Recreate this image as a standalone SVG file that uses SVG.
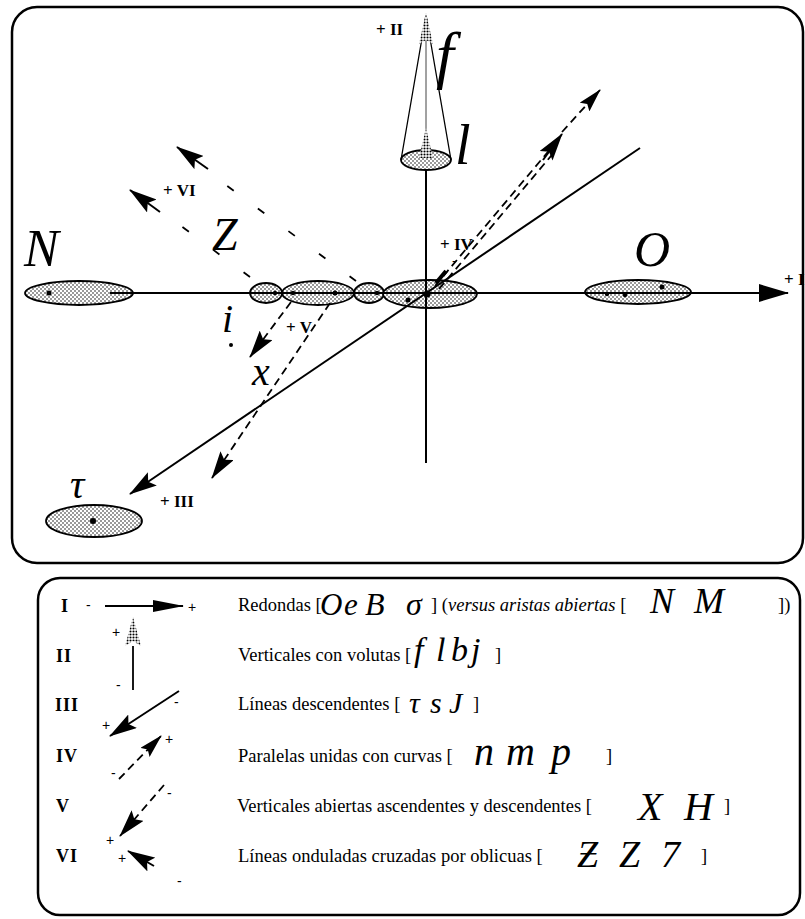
<svg xmlns="http://www.w3.org/2000/svg" width="805" height="919" viewBox="0 0 805 919">
<defs>
<pattern id="stip" width="4" height="4" patternUnits="userSpaceOnUse"><rect width="4" height="4" fill="#fff"/><circle cx="1" cy="1" r="0.75" fill="#000"/><circle cx="3" cy="3" r="0.75" fill="#000"/></pattern>
<pattern id="stipd" width="3" height="3" patternUnits="userSpaceOnUse"><rect width="3" height="3" fill="#fff"/><circle cx="1.5" cy="1.5" r="1.05" fill="#000"/></pattern>
<marker id="aI" markerUnits="userSpaceOnUse" viewBox="0 0 30 18" markerWidth="30" markerHeight="18" refX="29" refY="9" orient="auto"><path d="M0,0 L30,9 L0,18 Z" fill="#000"/></marker>
<marker id="aL" markerUnits="userSpaceOnUse" viewBox="0 0 31 12" markerWidth="31" markerHeight="12" refX="30" refY="6" orient="auto"><path d="M0,0 L31,6 L0,12 Z" fill="#000"/></marker>
<marker id="ad" markerUnits="userSpaceOnUse" viewBox="0 0 28 16" markerWidth="28" markerHeight="16" refX="27" refY="8" orient="auto"><path d="M0,0 L28,8 L0,16 L5,8 Z" fill="#000"/></marker>
<marker id="as" markerUnits="userSpaceOnUse" viewBox="0 0 24 13" markerWidth="24" markerHeight="13" refX="23" refY="6.5" orient="auto"><path d="M0,0 L24,6.5 L0,13 L4,6.5 Z" fill="#000"/></marker>
</defs>
<style>
.box{fill:none;stroke:#000;stroke-width:2.5}
.ax{stroke:#000;stroke-width:2;fill:none}
.thin{stroke:#000;stroke-width:1.3;fill:none}
.dash{stroke:#000;stroke-width:1.8;fill:none;stroke-dasharray:8 5}
.sparse{stroke:#000;stroke-width:1.8;fill:none;stroke-dasharray:8 30}
.ell{fill:url(#stip);stroke:#000;stroke-width:1.8}
.std{fill:url(#stipd);stroke:none}
.dot{fill:#000}
.lab{font-family:"Liberation Serif","Times New Roman",serif;font-weight:bold;font-size:17px;fill:#000}
.leg{font-family:"Liberation Serif","Times New Roman",serif;font-weight:bold;font-size:18px;letter-spacing:1px;fill:#000}
.txt{font-family:"Liberation Serif","Times New Roman",serif;font-size:18.5px;fill:#000}
.scr{font-family:"Liberation Serif","DejaVu Serif",serif;font-style:italic;fill:#000}
.pm{font-family:"Liberation Sans",Arial,sans-serif;font-size:14px;fill:#000}
</style>
<rect width="805" height="919" fill="#fff"/>
<rect class="box" x="12" y="7" width="791" height="556" rx="25"/>
<rect class="box" x="38" y="578" width="762" height="337" rx="22"/>

<g id="node-N">
<ellipse class="ell" cx="79" cy="293" rx="54" ry="12"/>
<circle class="dot" cx="49" cy="293" r="2.5"/>
<text class="scr" font-size="52" x="24" y="266">N</text>
</g>
<g id="node-e1">
<ellipse class="ell" cx="266" cy="293" rx="16" ry="10"/>
<circle class="dot" cx="275" cy="293" r="2.2"/>
</g>
<g id="node-e2">
<ellipse class="ell" cx="318" cy="293" rx="36" ry="12"/>
<circle class="dot" cx="293" cy="293" r="2.2"/>
<circle class="dot" cx="335" cy="293" r="2.5"/>
</g>
<g id="node-e3">
<ellipse class="ell" cx="369" cy="293" rx="15" ry="10"/>
<circle class="dot" cx="377" cy="293" r="2.2"/>
</g>
<g id="node-origin">
<ellipse class="ell" cx="430" cy="294" rx="47" ry="14"/>
<circle class="dot" cx="427" cy="294" r="3.5"/>
<circle class="dot" cx="408" cy="300" r="2.5"/>
</g>
<g id="node-O">
<ellipse class="ell" cx="638" cy="292" rx="53" ry="12"/>
<circle class="dot" cx="607" cy="294" r="2.2"/>
<circle class="dot" cx="625" cy="295" r="2.2"/>
<circle class="dot" cx="662" cy="287" r="2.5"/>
<text class="scr" font-size="50" x="634" y="266">O</text>
</g>
<g id="node-tau">
<ellipse class="ell" cx="94" cy="521" rx="48" ry="16"/>
<circle class="dot" cx="93" cy="521" r="3"/>
<text class="scr" font-size="40" x="70" y="498">τ</text>
</g>
<g id="node-cone">
<path class="thin" d="M401,160 L426,15 L451,160"/>
<line x1="426" y1="40" x2="426" y2="135" stroke="#444" stroke-width="1"/>
<polygon class="std" points="426,13 419,44 426,40 433,44"/>
<ellipse class="ell" cx="426" cy="160" rx="25" ry="10"/>
<polygon class="std" points="426,128 419,158 433,158"/>
<text class="scr" font-size="64" x="436" y="76">f</text>
<text class="scr" font-size="56" x="455" y="164">l</text>
</g>
<g id="node-Z">
<text class="scr" font-size="46" x="212" y="250">Z</text>
</g>
<g id="node-i">
<text class="scr" font-size="40" x="222" y="332">i</text>
<circle class="dot" cx="231" cy="345" r="2"/>
</g>
<g id="node-x">
<text class="scr" font-size="40" x="252" y="385">x</text>
</g>

<g id="connectors">
<line class="ax" x1="110" y1="293" x2="788" y2="293" marker-end="url(#aI)"/>
<line class="ax" x1="426" y1="170" x2="426" y2="463"/>
<line class="ax" x1="640" y1="148" x2="130" y2="494" marker-end="url(#ad)"/>
<line class="dash" x1="435" y1="286" x2="552" y2="147"/>
<line class="dash" x1="439" y1="289" x2="556" y2="150"/>
<line class="ax" x1="543" y1="160" x2="562" y2="134" marker-end="url(#ad)"/>
<line class="dash" x1="562" y1="132" x2="600" y2="90" marker-end="url(#as)"/>
<line x1="436" y1="283" x2="446" y2="271" stroke="#000" stroke-width="4"/>
<line class="sparse" x1="356" y1="281" x2="226" y2="185"/>
<line class="sparse" x1="250" y1="277" x2="179" y2="224.5"/>
<line class="ax" x1="208" y1="169" x2="177" y2="147" marker-end="url(#ad)"/>
<line class="ax" x1="160" y1="212" x2="130" y2="190" marker-end="url(#ad)"/>
<line class="dash" x1="291" y1="302" x2="250" y2="357" marker-end="url(#ad)"/>
<line class="dash" x1="330" y1="303" x2="212" y2="478" marker-end="url(#ad)"/>
</g>

<g id="axis-labels">
<text class="lab" x="376" y="35">+ II</text>
<text class="lab" x="440" y="250">+ IV</text>
<text class="pm" x="452" y="266">-</text>
<text class="lab" x="163" y="196">+ VI</text>
<text class="lab" x="286" y="333">+ V</text>
<text class="lab" x="160" y="507">+ III</text>
<text class="lab" x="784" y="285">+ I</text>
</g>

<g id="legend-I">
<text class="leg" x="61" y="612">I</text>
<text class="pm" x="86" y="610">-</text>
<line class="ax" x1="105" y1="606" x2="183" y2="606" marker-end="url(#aL)"/>
<text class="pm" x="188" y="612">+</text>
<text class="txt" x="238" y="611">Redondas [</text>
<text class="scr" font-size="31" x="320" y="615">O</text>
<text class="scr" font-size="31" x="344" y="615">e</text>
<text class="scr" font-size="32" x="365" y="615">B</text>
<text class="scr" font-size="32" x="406" y="615">σ</text>
<text class="txt" font-size="19.5" x="431" y="611">] (<tspan font-style="italic">versus aristas abiertas</tspan> [</text>
<text class="scr" font-size="36" x="650" y="613">N</text>
<text class="scr" font-size="36" x="694" y="613">M</text>
<text class="txt" x="778" y="611">])</text>
</g>
<g id="legend-II">
<text class="leg" x="56" y="662">II</text>
<polygon class="std" points="133,617 125,646 133,641 141,646"/>
<line x1="133" y1="646" x2="133" y2="690" stroke="#000" stroke-width="1.8"/>
<text class="pm" x="112" y="637">+</text>
<text class="pm" x="116" y="690">-</text>
<text class="txt" x="238" y="661">Verticales con volutas [</text>
<text class="scr" font-size="34" x="414" y="661">f</text>
<text class="scr" font-size="34" x="436" y="661">l</text>
<text class="scr" font-size="34" x="451" y="661">b</text>
<text class="scr" font-size="34" x="471" y="661">j</text>
<text class="txt" x="495" y="661">]</text>
</g>
<g id="legend-III">
<text class="leg" x="55" y="711">III</text>
<line class="ax" x1="179" y1="691" x2="110" y2="736" marker-end="url(#ad)"/>
<text class="pm" x="174" y="707">-</text>
<text class="pm" x="102" y="730">+</text>
<text class="txt" x="238" y="710">Líneas descendentes [</text>
<text class="scr" font-size="30" x="409" y="713">τ</text>
<text class="scr" font-size="30" x="430" y="713">s</text>
<text class="scr" font-size="30" x="449" y="713">J</text>
<text class="txt" x="473" y="710">]</text>
</g>
<g id="legend-IV">
<text class="leg" x="56" y="762">IV</text>
<line class="dash" x1="119" y1="779" x2="161" y2="736" marker-end="url(#as)"/>
<text class="pm" x="165" y="744">+</text>
<text class="pm" x="111" y="778">-</text>
<text class="txt" font-size="19.5" x="238" y="762">Paralelas unidas con curvas [</text>
<text class="scr" font-size="40" x="474" y="765">n</text>
<text class="scr" font-size="40" x="506" y="765">m</text>
<text class="scr" font-size="40" x="551" y="765">p</text>
<text class="txt" x="606" y="762">]</text>
</g>
<g id="legend-V">
<text class="leg" x="56" y="812">V</text>
<line class="dash" x1="164" y1="785" x2="120" y2="836" marker-end="url(#ad)"/>
<text class="pm" x="167" y="798">-</text>
<text class="pm" x="106" y="845">+</text>
<text class="txt" font-size="20.5" x="237" y="812">Verticales abiertas ascendentes y descendentes [</text>
<text class="scr" font-size="40" x="638" y="820">X</text>
<text class="scr" font-size="40" x="684" y="820">H</text>
<text class="txt" x="724" y="812">]</text>
</g>
<g id="legend-VI">
<text class="leg" x="56" y="862">VI</text>
<line class="ax" x1="154" y1="866" x2="128" y2="851" marker-end="url(#ad)"/>
<text class="pm" x="118" y="863">+</text>
<text class="pm" x="177" y="886">-</text>
<text class="txt" font-size="20" x="238" y="862">Líneas onduladas cruzadas por oblicuas [</text>
<text class="scr" font-size="38" x="577" y="867">Ƶ</text>
<text class="scr" font-size="38" x="619" y="867">Z</text>
<text class="scr" font-size="38" x="661" y="867">7</text>
<text class="txt" x="701" y="862">]</text>
</g>
</svg>
